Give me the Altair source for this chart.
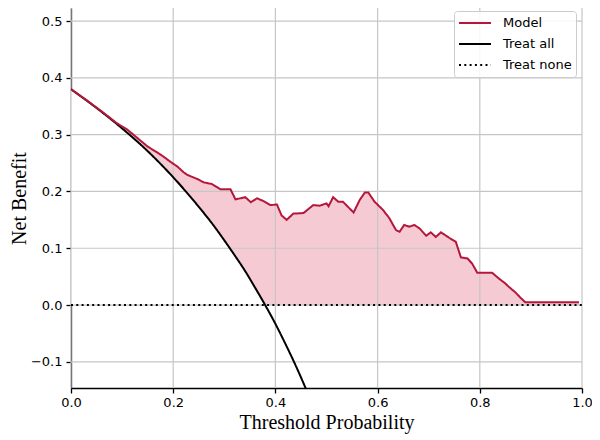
import altair as alt
import pandas as pd

# ---- data ----
model_x = [0.00, 0.03, 0.06, 0.09, 0.11, 0.13, 0.15, 0.17, 0.18, 0.195, 0.208, 0.22, 0.228,
           0.247, 0.260, 0.276, 0.292, 0.312, 0.322, 0.341, 0.352, 0.364, 0.377, 0.390, 0.403,
           0.412, 0.422, 0.435, 0.455, 0.474, 0.487, 0.500, 0.504, 0.513, 0.523, 0.532, 0.553,
           0.565, 0.575, 0.582, 0.594, 0.610, 0.623, 0.636, 0.643, 0.652, 0.662, 0.672, 0.682,
           0.695, 0.704, 0.714, 0.724, 0.740, 0.753, 0.763, 0.776, 0.785, 0.795, 0.824, 0.837,
           0.850, 0.857, 0.870, 0.879, 0.889, 0.994]
model_y = [0.380, 0.361, 0.341, 0.320, 0.309, 0.294, 0.279, 0.268, 0.262, 0.252, 0.244, 0.234, 0.229,
           0.222, 0.216, 0.213, 0.204, 0.204, 0.186, 0.190, 0.181, 0.188, 0.183, 0.176, 0.177,
           0.158, 0.150, 0.161, 0.162, 0.176, 0.175, 0.179, 0.174, 0.190, 0.182, 0.182, 0.163,
           0.185, 0.198, 0.198, 0.182, 0.168, 0.153, 0.132, 0.129, 0.141, 0.138, 0.141, 0.135,
           0.122, 0.128, 0.120, 0.128, 0.1185, 0.1115, 0.084, 0.082, 0.073, 0.057, 0.057, 0.047,
           0.038, 0.032, 0.022, 0.0135, 0.005, 0.005]

all_x = [0.00, 0.05, 0.10, 0.15, 0.20, 0.25, 0.28, 0.30, 0.32, 0.34, 0.36, 0.38, 0.40, 0.42, 0.44, 0.46]
all_y = [0.380, 0.347, 0.311, 0.271, 0.225, 0.173, 0.139, 0.114, 0.088, 0.061, 0.031, 0.000,
         -0.033, -0.069, -0.107, -0.148]

none_x = [0.0, 1.0]
none_y = [0.0, 0.0]

x_ticks = [0.0, 0.2, 0.4, 0.6, 0.8, 1.0]
y_ticks = [-0.1, 0.0, 0.1, 0.2, 0.3, 0.4, 0.5]

series = ["Model", "Treat all", "Treat none"]
series_colors = ["#B5173B", "#000000", "#000000"]
series_dash = [[1, 0], [1, 0], [2, 3.3]]

# ---- tables ----
model_df = pd.DataFrame({"x": model_x, "y": model_y, "series": "Model"})
all_df = pd.DataFrame({"x": all_x, "y": all_y, "series": "Treat all"})
none_df = pd.DataFrame({"x": none_x, "y": none_y, "series": "Treat none"})
mask_df = all_df[all_df["y"] >= 0]
vgrid_df = pd.DataFrame({"x": x_ticks})
hgrid_df = pd.DataFrame({"y": y_ticks})

xs = alt.Scale(domain=[0, 1], nice=False, zero=False)
ys = alt.Scale(domain=[-0.146, 0.523], nice=False, zero=False)

common_axis = dict(grid=False, domainColor="black", domainWidth=1.3, tickColor="black",
                   tickWidth=1.3, tickSize=5, labelFont="DejaVu Sans", labelFontSize=13,
                   labelColor="black", labelFlush=False, labelOverlap=False,
                   titleFont="Liberation Serif", titleFontSize=20, titleFontWeight="normal",
                   titleColor="black", format=".1f")

xaxis = alt.Axis(values=x_ticks, labelPadding=3, titlePadding=3,
                 title="Threshold Probability", **common_axis)
yaxis = alt.Axis(values=y_ticks, labelPadding=4, titlePadding=1,
                 title="Net Benefit", **common_axis)

X = alt.X("x:Q", scale=xs, axis=xaxis, title="Threshold Probability")
Y = alt.Y("y:Q", scale=ys, axis=yaxis, title="Net Benefit")

leg = alt.Legend(title=None, orient="none", legendX=383, legendY=3, symbolType="stroke",
                 symbolSize=1024, symbolStrokeWidth=2, labelFont="DejaVu Sans",
                 labelFontSize=13, labelColor="black", padding=4, rowPadding=5,
                 clipHeight=16, labelOffset=11, fillColor="rgba(255,255,255,0.85)",
                 strokeColor="#cccccc", cornerRadius=3)

color = alt.Color("series:N", scale=alt.Scale(domain=series, range=series_colors), legend=leg)
dash = alt.StrokeDash("series:N", scale=alt.Scale(domain=series, range=series_dash), legend=leg)

pink = alt.Chart(model_df).mark_area(color="#F6CAD3", opacity=1, interpolate="linear").encode(
    x=X, y=Y, y2=alt.datum(0))
mask = alt.Chart(mask_df).mark_area(color="white", opacity=1, interpolate="monotone").encode(
    x=X, y=Y, y2=alt.datum(0))
vgrid = alt.Chart(vgrid_df).mark_rule(color="#c6c6c6", strokeWidth=1.2).encode(x=X)
hgrid = alt.Chart(hgrid_df).mark_rule(color="#c6c6c6", strokeWidth=1.2).encode(y=Y)
none_line = alt.Chart(none_df).mark_line(strokeWidth=2).encode(x=X, y=Y, color=color, strokeDash=dash)
all_line = alt.Chart(all_df).mark_line(strokeWidth=2, interpolate="monotone", clip=True).encode(
    x=X, y=Y, color=color, strokeDash=dash)
model_line = alt.Chart(model_df).mark_line(strokeWidth=2, interpolate="linear").encode(
    x=X, y=Y, color=color, strokeDash=dash)

chart = alt.layer(pink, mask, vgrid, hgrid, none_line, all_line, model_line).properties(
    width=511, height=380, autosize="none",
    padding={"left": 63, "top": 0, "right": 10, "bottom": 50},
).configure_view(stroke=None)

chart.save("out.html", embed_options={"renderer": "svg", "actions": False})
